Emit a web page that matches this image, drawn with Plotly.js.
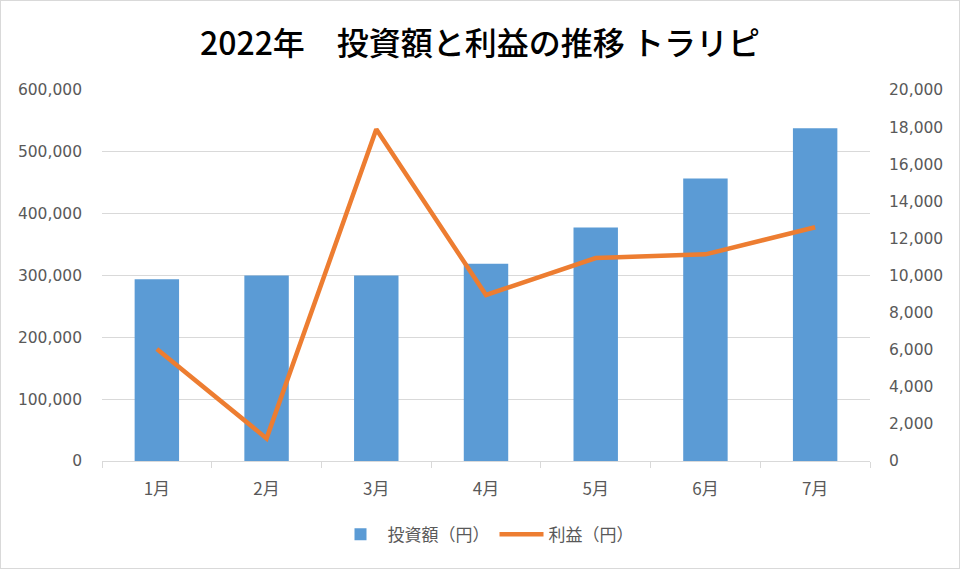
<!DOCTYPE html>
<html>
<head>
<meta charset="utf-8">
<script src="https://cdn.plot.ly/plotly-3.0.1.min.js"></script>
<style>
  body { margin: 0; background: #fff; }
  #plot { width: 958px; height: 567px; border: 1px solid #d9d9d9; }
</style>
</head>
<body>
<div id="plot"></div>
<script>
// months on the x axis
const months = ['1月', '2月', '3月', '4月', '5月', '6月', '7月'];
// investment amount (yen), left axis
const investment = [294000, 300000, 300000, 319000, 377500, 457000, 538000];
// profit (yen), right axis
const profit = [6040, 1220, 17880, 8950, 10940, 11140, 12600];

const tickFont = { family: 'DejaVu Sans, Noto Sans CJK JP', size: 15.5, color: '#595959' };

function draw() {
    const traceBar = {
        x: months,
        y: investment,
        name: '投資額（円）',
        type: 'bar',
        marker: { color: '#5b9bd5' },
        hoverinfo: 'y'
    };

    const traceLine = {
        x: months,
        y: profit,
        name: '利益（円）',
        type: 'scatter',
        mode: 'lines',
        yaxis: 'y2',
        line: { color: '#ed7d31', width: 4.5 }
    };

    const layout = {
        width: 958,
        height: 567,
        paper_bgcolor: '#ffffff',
        plot_bgcolor: '#ffffff',
        margin: { l: 101, r: 89, t: 89, b: 107 },
        bargap: 0.595,
        title: {
            text: '2022年　投資額と利益の推移 トラリピ',
            font: { family: 'Noto Sans CJK JP', size: 32, color: '#000000', weight: 500 },
            x: 0.5,
            xanchor: 'center',
            y: 1 - 43 / 567,
            yanchor: 'middle'
        },
        xaxis: {
            type: 'category',
            showline: true,
            linecolor: '#d9d9d9',
            linewidth: 1,
            ticks: 'outside',
            tickson: 'boundaries',
            ticklen: 6,
            tickcolor: '#d9d9d9',
            tickfont: { family: 'Noto Sans CJK JP', size: 17, color: '#595959' },
            ticklabelstandoff: 13,
            showgrid: false,
            zeroline: false
        },
        yaxis: {
            range: [0, 600000],
            dtick: 100000,
            tickformat: ',d',
            showgrid: true,
            gridcolor: '#d9d9d9',
            gridwidth: 1,
            zeroline: false,
            showline: false,
            ticks: '',
            ticklabelstandoff: 19,
            tickfont: tickFont
        },
        yaxis2: {
            range: [0, 20000],
            dtick: 2000,
            tickformat: ',d',
            overlaying: 'y',
            side: 'right',
            showgrid: false,
            zeroline: false,
            showline: false,
            ticks: '',
            ticklabelstandoff: 18,
            tickfont: tickFont
        },
        showlegend: true,
        legend: {
            orientation: 'h',
            x: 0.5,
            xanchor: 'center',
            y: -0.15,
            yanchor: 'top',
            font: { family: 'Noto Sans CJK JP', size: 17, color: '#595959' },
            itemwidth: 44
        }
    };

    Plotly.newPlot('plot', [traceBar, traceLine], layout, { displayModeBar: false });
}

draw();
</script>
</body>
</html>
